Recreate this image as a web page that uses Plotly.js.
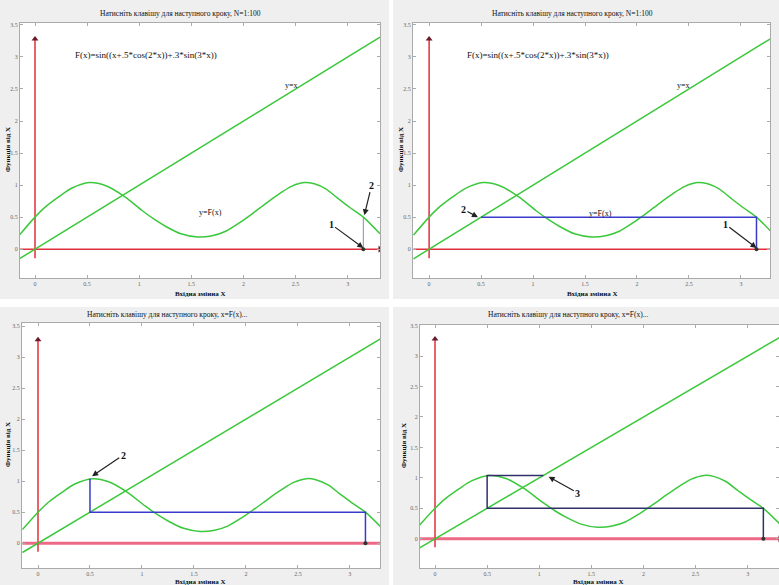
<!DOCTYPE html>
<html><head><meta charset="utf-8">
<script src="https://cdn.plot.ly/plotly-3.0.1.min.js"></script>
<style>html,body{margin:0;padding:0;background:#fff}#c{width:779px;height:585px}</style>
</head><body><div id="c"></div>
<script>
// green curve y=F(x)
var curveX = [-0.15, 0, 0.1, 0.23, 0.35, 0.52, 0.68, 0.86, 1.03, 1.15, 1.26, 1.40, 1.56, 1.70, 1.83, 1.96, 2.09, 2.22, 2.35, 2.46, 2.58, 2.68, 2.79, 2.90, 3.02, 3.15, 3.31];
var curveF = [0.22, 0.5, 0.66, 0.82, 0.95, 1.04, 0.99, 0.82, 0.6, 0.46, 0.35, 0.24, 0.19, 0.21, 0.28, 0.41, 0.56, 0.72, 0.87, 0.98, 1.04, 1.02, 0.94, 0.8, 0.65, 0.5, 0.24];
// line y=x
var lineX = [-0.15, 3.31];
var lineY = [-0.15, 3.31];
// red coordinate axes with arrows
var redHX = [-0.15, 3.31], redHY = [0, 0];
var redVX = [0, 0], redVY = [-0.14, 3.28];
// cobweb steps per panel
var cob1X = [3.15, 3.15], cob1Y = [0, 0.5];
var cob2X = [3.15, 3.15, 0.5], cob2Y = [0, 0.5, 0.5];
var cob3X = [3.15, 3.15, 0.5, 0.5], cob3Y = [0, 0.5, 0.5, 1.04];
var cob4X = [3.15, 3.15, 0.5, 0.5, 1.04], cob4Y = [0, 0.5, 0.5, 1.04, 1.04];
var startX = [3.15], startY = [0];
// texts
var titleTop = "Натисніть клавішу для наступного кроку, N=1:100";
var titleBot = "Натисніть клавішу для наступного кроку, x=F(x)...";
var xTitle = "Вхідна змінна X";
var yTitle = "Функція від X";
var formula = "F(x)=sin((x+.5*cos(2*x))+.3*sin(3*x))";

var FONT = "Liberation Serif, Times New Roman, serif";
var GREEN = "#3cc83c", RED = "#e0303c", BLUE = "#3a3acc";

var traces = [];
var cobs = [[cob1X, cob1Y], [cob2X, cob2Y], [cob3X, cob3Y], [cob4X, cob4Y]];
for (var i = 0; i < 4; i++) {
  var xa = i === 0 ? "x" : "x" + (i + 1);
  var ya = i === 0 ? "y" : "y" + (i + 1);
  var bottom = i >= 2;
  traces.push({x: redHX, y: redHY, xaxis: xa, yaxis: ya, mode: "lines", line: {color: bottom ? "#ec6a86" : RED, width: bottom ? 3 : 1.5}, hoverinfo: "skip"});
  traces.push({x: [redHX[1]], y: [redHY[1]], xaxis: xa, yaxis: ya, mode: "markers", marker: {symbol: "triangle-right", size: 6, color: "#6a1a2a"}, hoverinfo: "skip"});
  traces.push({x: redVX, y: redVY, xaxis: xa, yaxis: ya, mode: "lines", line: {color: RED, width: 1.5}, hoverinfo: "skip"});
  traces.push({x: [redVX[1]], y: [redVY[1]], xaxis: xa, yaxis: ya, mode: "markers", marker: {symbol: "triangle-up", size: 6, color: "#6a1a2a"}, hoverinfo: "skip"});
  traces.push({x: lineX, y: lineY, xaxis: xa, yaxis: ya, mode: "lines", line: {color: GREEN, width: 1.5}, hoverinfo: "skip"});
  traces.push({x: curveX, y: curveF, xaxis: xa, yaxis: ya, mode: "lines", line: {color: GREEN, width: 1.5, shape: "spline", smoothing: 0.8}, hoverinfo: "skip"});
  traces.push({x: cobs[i][0], y: cobs[i][1], xaxis: xa, yaxis: ya, mode: "lines", line: {color: i === 0 ? "#8888bb" : (i === 3 ? "#30306a" : BLUE), width: i === 0 ? 1 : 1.5}, hoverinfo: "skip"});
  traces.push({x: startX, y: startY, xaxis: xa, yaxis: ya, mode: "markers", marker: {symbol: "circle", size: 4, color: "#333"}, hoverinfo: "skip"});
}

function ax(domain, range, anchor, isY) {
  return {domain: domain, range: range, anchor: anchor, showgrid: false, zeroline: false,
    showline: true, linecolor: "#aaaaaa", linewidth: 1, mirror: "ticks", ticks: "inside", ticklen: 3,
    tickcolor: "#aaaaaa", dtick: 0.5, tick0: 0, tickfont: {family: FONT, size: 6, color: "#666"}, fixedrange: true};
}
function px(x) { return x / 779; }
function py(y) { return 1 - y / 585; }

var ann = [];
function txt(x, y, s, size, extra) {
  var a = {xref: "paper", yref: "paper", x: px(x), y: py(y), text: s, showarrow: false,
    font: {family: FONT, size: size, color: "#111"}, xanchor: "center", yanchor: "middle"};
  for (var k in extra) a[k] = extra[k];
  ann.push(a);
}
txt(180, 13, titleTop, 7.5);
txt(572, 13, titleTop, 7.5);
txt(167, 314, titleBot, 7.5);
txt(568, 314, titleBot, 7.5);
txt(200, 294, "<b>" + xTitle + "</b>", 7);
txt(592, 294, "<b>" + xTitle + "</b>", 7);
txt(200, 582, "<b>" + xTitle + "</b>", 7);
txt(598, 582, "<b>" + xTitle + "</b>", 7);
txt(8, 150, "<b>" + yTitle + "</b>", 7, {textangle: -90});
txt(401, 150, "<b>" + yTitle + "</b>", 7, {textangle: -90});
txt(8, 445, "<b>" + yTitle + "</b>", 7, {textangle: -90});
txt(404, 445, "<b>" + yTitle + "</b>", 7, {textangle: -90});

function dtext(xr, yr, x, y, s, size) {
  ann.push({xref: xr, yref: yr, x: x, y: y, text: s, showarrow: false, xanchor: "left",
    font: {family: FONT, size: size, color: "#111"}});
}
dtext("x", "y", 0.36, 3.03, formula, 9);
dtext("x2", "y2", 0.35, 3.03, formula, 9);
dtext("x", "y", 2.38, 2.56, "y=x", 8);
dtext("x2", "y2", 2.37, 2.56, "y=x", 8);
dtext("x", "y", 1.55, 0.58, "y=F(x)", 8);
dtext("x2", "y2", 1.52, 0.56, "y=F(x)", 8);

function arrow(xr, yr, tx, ty, lx, ly, s) {
  ann.push({xref: xr, yref: yr, x: tx, y: ty, axref: xr, ayref: yr, ax: lx, ay: ly, text: "<b>" + s + "</b>",
    showarrow: true, arrowhead: 2, arrowsize: 1, arrowwidth: 1.2, arrowcolor: "#222",
    font: {family: FONT, size: 10, color: "#111"}});
}
arrow("x", "y", 3.15, 0.02, 2.84, 0.39, "1");
arrow("x", "y", 3.16, 0.53, 3.23, 1.0, "2");
arrow("x2", "y2", 3.15, 0.02, 2.85, 0.39, "1");
arrow("x2", "y2", 0.47, 0.5, 0.33, 0.62, "2");
arrow("x3", "y3", 0.52, 1.08, 0.82, 1.42, "2");
arrow("x4", "y4", 1.09, 1.02, 1.37, 0.75, "3");

var layout = {
  width: 779, height: 585, margin: {l: 0, r: 0, t: 0, b: 0},
  paper_bgcolor: "#efefef", plot_bgcolor: "#ffffff", showlegend: false,
  xaxis: ax([px(20), px(380)], [-0.144, 3.31], "y"),
  yaxis: ax([py(278), py(23)], [-0.45, 3.53], "x"),
  xaxis2: ax([px(413), px(770)], [-0.155, 3.28], "y2"),
  yaxis2: ax([py(278), py(23)], [-0.45, 3.53], "x2"),
  xaxis3: ax([px(22), px(380)], [-0.154, 3.29], "y3"),
  yaxis3: ax([py(568), py(323)], [-0.40, 3.55], "x3"),
  xaxis4: ax([px(420), 1], [-0.144, 3.3], "y4"),
  yaxis4: ax([py(568), py(325)], [-0.48, 3.51], "x4"),
  annotations: ann,
  shapes: [
    {type: "rect", xref: "paper", yref: "paper", x0: 0, x1: 1, y0: py(307), y1: py(299), fillcolor: "#ffffff", line: {width: 0}, layer: "below"},
    {type: "rect", xref: "paper", yref: "paper", x0: px(389), x1: px(393), y0: 0, y1: 1, fillcolor: "#ffffff", line: {width: 0}, layer: "below"}
  ]
};
Plotly.newPlot("c", traces, layout, {staticPlot: true, displayModeBar: false});
</script></body></html>
